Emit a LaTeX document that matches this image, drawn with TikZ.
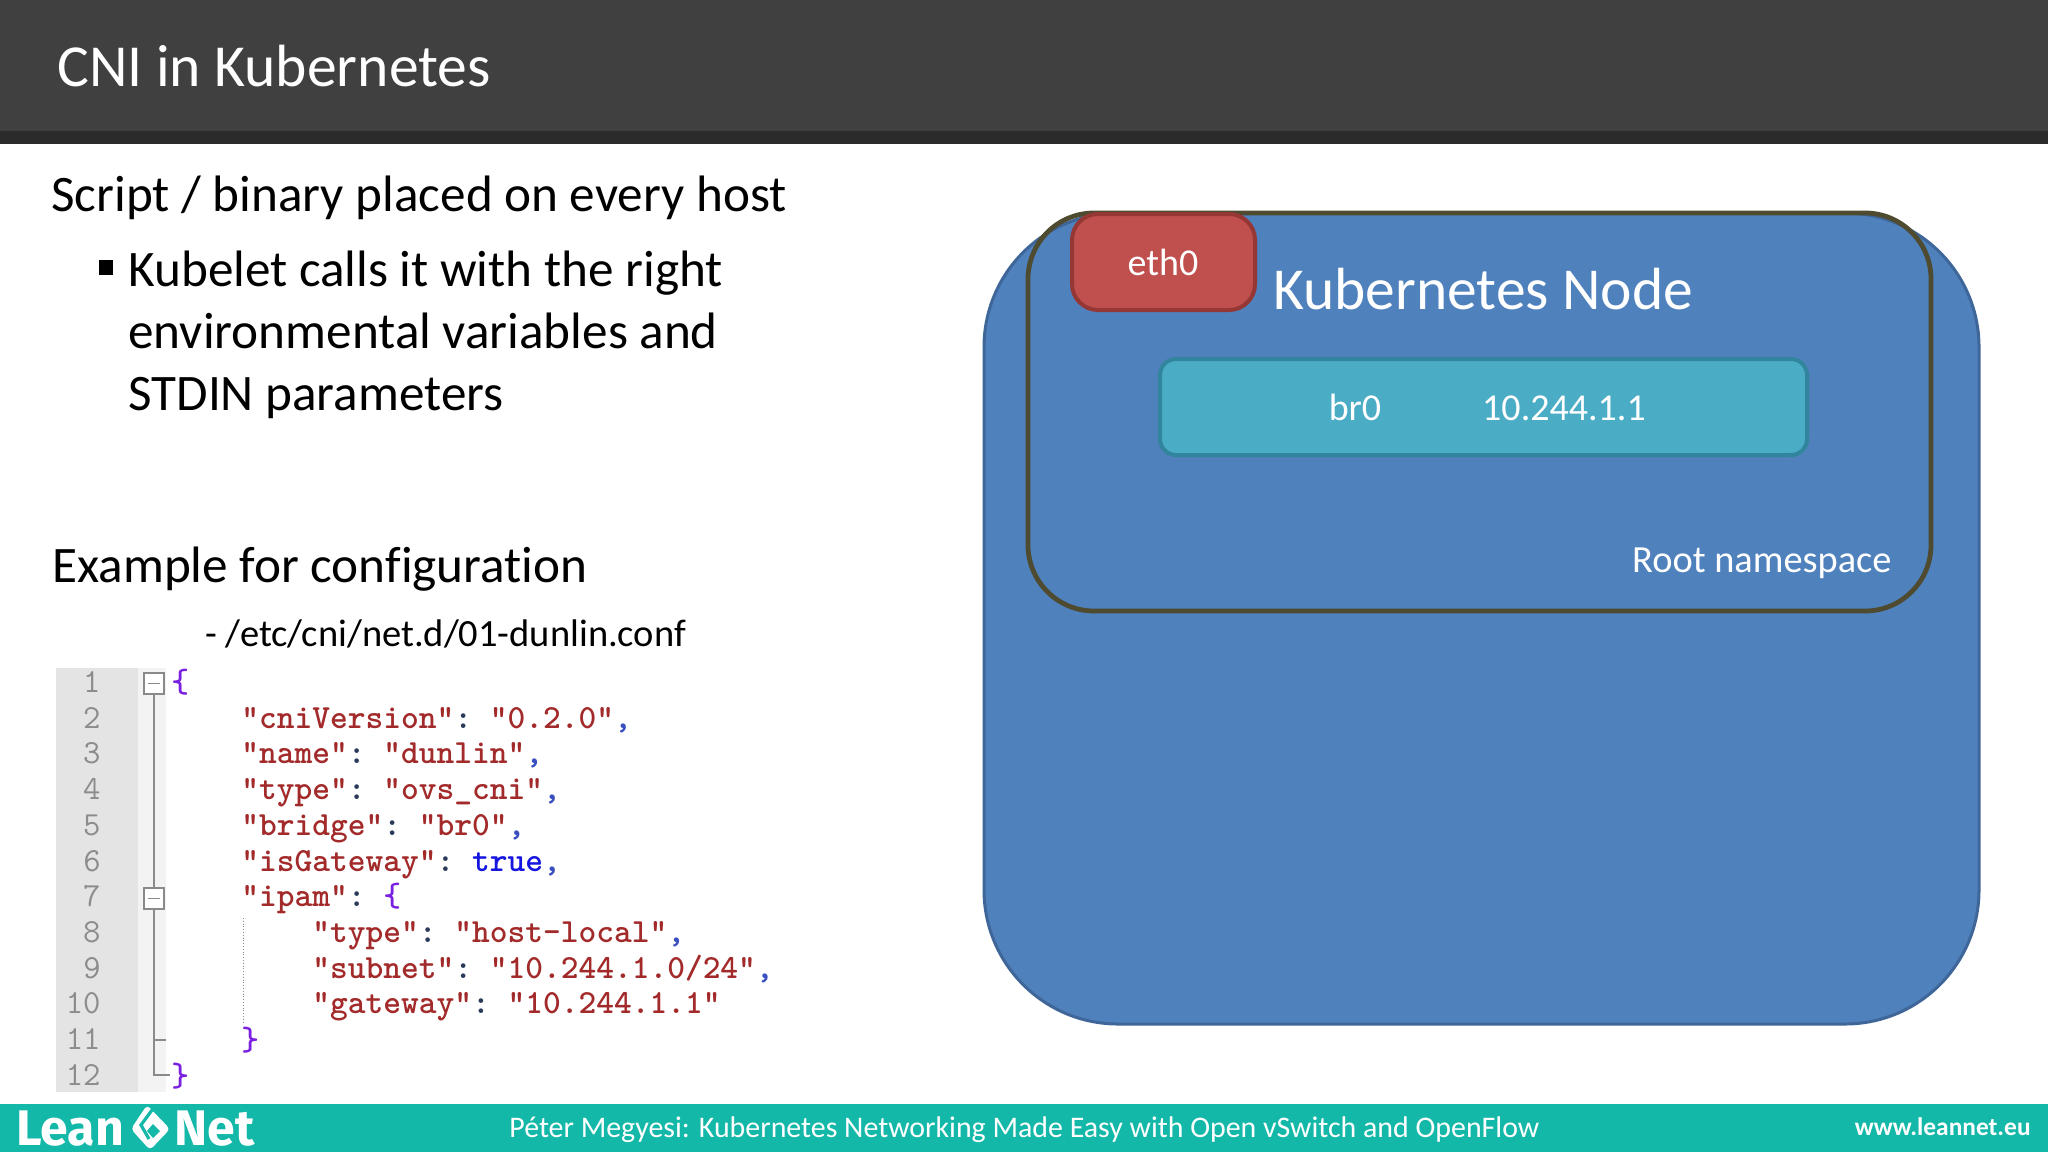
\documentclass[tikz,border=0pt]{standalone}
\usepackage{fontspec}
\setmainfont{Carlito}[Ligatures={CommonOff}]
\newfontfamily\logofont{Fira Sans}
\definecolor{titlebar}{HTML}{404040}
\definecolor{titleedge}{HTML}{2B2B2B}
\definecolor{footteal}{HTML}{14B8A8}
\definecolor{bluefill}{HTML}{4F81BD}
\definecolor{blueedge}{HTML}{3F6699}
\definecolor{nsedge}{HTML}{4E4B30}
\definecolor{redfill}{HTML}{C0504D}
\definecolor{rededge}{HTML}{953735}
\definecolor{tealfill}{HTML}{4BACC6}
\definecolor{tealedge}{HTML}{31859C}
\definecolor{gutter}{HTML}{E4E4E4}
\definecolor{foldstripe}{HTML}{F3F3F3}
\definecolor{foldline}{HTML}{8A8A8A}
\definecolor{numgray}{HTML}{8C8C8C}
\definecolor{strred}{HTML}{A32A2A}
\definecolor{punct}{HTML}{2A3A5A}
\definecolor{commablue}{HTML}{3A50C0}
\definecolor{bracepurple}{HTML}{7A20E0}
\definecolor{trueblue}{HTML}{1515E0}
\newcommand{\fs}[1]{\fontsize{#1}{#1}\selectfont}
\newcommand{\st}[1]{\textcolor{strred}{#1}}
\newcommand{\cn}{\textcolor{punct}{:}\hspace{8.85pt}}
\newcommand{\cm}{\textcolor{commablue}{,}}
\newcommand{\br}[1]{\textcolor{bracepurple}{#1}}
\tikzset{
  x=0.5pt,y=-0.5pt,
  txt/.style={anchor=base west,inner sep=0pt,text=black},
  wtxt/.style={anchor=base,inner sep=0pt,text=white},
  code/.style={anchor=base west,inner sep=0pt,font=\ttfamily\bfseries\fs{16.9}},
  lnum/.style={anchor=base east,inner sep=0pt,text=numgray,font=\ttfamily\fs{16.85}},
  foldbox/.style={draw=foldline,fill=white,line width=0.9pt},
  foldrule/.style={draw=foldline,line width=0.9pt},
}
\begin{document}
\begin{tikzpicture}
\useasboundingbox (0,0) rectangle (2048,1152);
\fill[white] (0,0) rectangle (2048,1152);
% header
\fill[titlebar] (0,0) rectangle (2048,131);
\fill[titleedge] (0,131) rectangle (2048,144);
\node[anchor=base west,inner sep=0pt,text=white,font=\fs{29.8}] (title) at (57,86) {CNI in Kubernetes};
% footer
\fill[footteal] (0,1104) rectangle (2048,1152);
\node[anchor=base west,inner sep=0pt,text=white,font=\logofont\bfseries\fs{25}] (lean) at (16,1145) {Lean};
\node[anchor=base west,inner sep=0pt,text=white,font=\logofont\bfseries\fs{25}] (net) at (174,1145) {Net};
\fill[white,rounded corners=2pt] (147,1105) -- (170,1129) -- (150,1150) -- (131,1129) -- cycle;
\draw[footteal,line width=1.6pt] (155,1106) -- (141,1125) -- (149,1139);
\fill[footteal] (153,1124) -- (160,1131) -- (153,1138) -- (147,1131) -- cycle;
\node[anchor=base west,inner sep=0pt,text=white,font=\fs{14.95}] (foot) at (509,1137) {Péter Megyesi: Kubernetes Networking Made Easy with Open vSwitch and OpenFlow};
\node[anchor=base east,inner sep=0pt,text=white,font=\bfseries\fs{12.7}] (web) at (2031,1135) {www.leannet.eu};
% left text
\node[txt,font=\fs{25.6}] (t1) at (51,211) {Script / binary placed on every host};
\fill[black] (99,260) rectangle (113,275);
\node[txt,font=\fs{25.6}] (t2) at (128,286) {Kubelet calls it with the right};
\node[txt,font=\fs{25.6}] (t3) at (128,348) {environmental variables and};
\node[txt,font=\fs{25.6}] (t4) at (128,410) {STDIN parameters};
\node[txt,font=\fs{25.6}] (t5) at (52,582) {Example for configuration};
\node[txt,font=\fs{19.25}] (t6) at (205,646) {- /etc/cni/net.d/01-dunlin.conf};
% code gutter
\fill[gutter] (56,668) rectangle (138,1092);
\fill[foldstripe] (138,668) rectangle (166,1092);
\draw[foldrule] (154,694) -- (154,888);
\draw[foldrule] (154,909) -- (154,1075) -- (170,1075);
\draw[foldrule] (154,1040) -- (166,1040);
\draw[foldbox] (144,673) rectangle (164,694);
\draw[foldbox] (144,888) rectangle (164,909);
\draw[foldrule] (148,683.5) -- (160,683.5);
\draw[foldrule] (148,898.5) -- (160,898.5);
\draw[foldline,line width=0.4pt,densely dotted] (243,918) -- (243,1023);
% line numbers
\node[lnum] (n1) at (101,692) {1};
\node[lnum] (n2) at (101,728) {2};
\node[lnum] (n3) at (101,763) {3};
\node[lnum] (n4) at (101,799) {4};
\node[lnum] (n5) at (101,835) {5};
\node[lnum] (n6) at (101,871) {6};
\node[lnum] (n7) at (101,906) {7};
\node[lnum] (n8) at (101,942) {8};
\node[lnum] (n9) at (101,978) {9};
\node[lnum] (n10) at (101,1013) {10};
\node[lnum] (n11) at (101,1049) {11};
\node[lnum] (n12) at (101,1085) {12};
% code
\node[code] (c1) at (171,692) {\br{\{}};
\node[code] (c2) at (241,728) {\st{"cniVersion"}\cn\st{"0.2.0"}\cm};
\node[code] (c3) at (241,763) {\st{"name"}\cn\st{"dunlin"}\cm};
\node[code] (c4) at (241,799) {\st{"type"}\cn\st{"ovs\_cni"}\cm};
\node[code] (c5) at (241,835) {\st{"bridge"}\cn\st{"br0"}\cm};
\node[code] (c6) at (241,871) {\st{"isGateway"}\cn\textcolor{trueblue}{true}\cm};
\node[code] (c7) at (241,906) {\st{"ipam"}\cn\br{\{}};
\node[code] (c8) at (312,942) {\st{"type"}\cn\st{"host-local"}\cm};
\node[code] (c9) at (312,978) {\st{"subnet"}\cn\st{"10.244.1.0/24"}\cm};
\node[code] (c10) at (312,1013) {\st{"gateway"}\cn\st{"10.244.1.1"}};
\node[code] (c11) at (241,1050) {\br{\}}};
\node[code] (c12) at (171,1086) {\br{\}}};
% right diagram
\draw[fill=bluefill,draw=blueedge,line width=1.5pt,rounded corners=67pt] (984,213) rectangle (1979,1024);
\draw[draw=nsedge,line width=2.4pt,rounded corners=33pt] (1028,213) rectangle (1931,611);
\draw[fill=redfill,draw=rededge,line width=2pt,rounded corners=13pt] (1072,214) rectangle (1255,310);
\node[wtxt,font=\fs{19}] (eth) at (1163,275) {eth0};
\node[anchor=base west,inner sep=0pt,text=white,font=\fs{29.75}] (knode) at (1273,309) {Kubernetes Node};
\draw[fill=tealfill,draw=tealedge,line width=2pt,rounded corners=8pt] (1160,359) rectangle (1807,455);
\node[wtxt,font=\fs{19}] (br) at (1355,420) {br0};
\node[wtxt,font=\fs{19}] (ip) at (1564,420) {10.244.1.1};
\node[anchor=base east,inner sep=0pt,text=white,font=\fs{19.2}] (root) at (1892,572) {Root namespace};
\end{tikzpicture}
\end{document}
